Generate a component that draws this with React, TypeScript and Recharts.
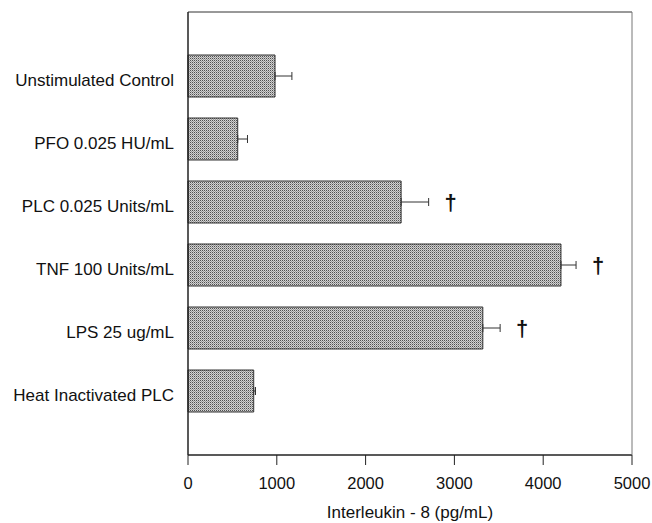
import { Bar, BarChart, ErrorBar, LabelList, XAxis, YAxis } from "recharts";

const categories = [
  "Unstimulated Control",
  "PFO 0.025 HU/mL",
  "PLC 0.025 Units/mL",
  "TNF 100 Units/mL",
  "LPS 25 ug/mL",
  "Heat Inactivated PLC",
];
const il8Values = [980, 560, 2400, 4200, 3320, 740];
const il8Errors = [190, 110, 310, 170, 195, 20];
const significant = [false, false, true, true, true, false];
const xTicks = [0, 1000, 2000, 3000, 4000, 5000];

const data = categories.map((name, i) => ({
  name,
  value: il8Values[i],
  err: [0, il8Errors[i]],
  sig: significant[i] ? "\u2020" : "",
}));

const font = "Liberation Sans, Arial, sans-serif";

// dagger sits a bit right of the error bar end
const renderDagger = (props: any) => {
  const { x = 0, y = 0, width = 0, height = 0, value, index = 0 } = props;
  if (!value) return null;
  const errPx = (il8Errors[index] * Number(width)) / il8Values[index];
  const dx = Number(x) + Number(width) + errPx + 22;
  const dy = Number(y) + Number(height) / 2;
  return (
    <text
      x={dx}
      y={dy}
      textAnchor="middle"
      dominantBaseline="central"
      fontSize={22}
      fontWeight="bold"
      fontFamily={font}
      fill="#111"
    >
      {value}
    </text>
  );
};

export default function App() {
  return (
    <div style={{ position: "absolute", left: 0, top: 0 }}>
      <BarChart
        width={652}
        height={523}
        data={data}
        layout="vertical"
        margin={{ top: 11, right: 19, bottom: 0, left: 0 }}
        barSize={42}
        style={{ fontFamily: font }}
      >
        <defs>
          <pattern id="dots" width="2" height="2" patternUnits="userSpaceOnUse">
            <rect width="2" height="2" fill="#d2d2d2" />
            <rect x="0" y="0" width="1" height="1" fill="#505050" />
            <rect x="1" y="1" width="1" height="1" fill="#999" />
          </pattern>
        </defs>
        <XAxis
          type="number"
          domain={[0, 5000]}
          ticks={xTicks}
          height={68}
          tickSize={10}
          tickMargin={12}
          axisLine={{ stroke: "#222", strokeWidth: 1.5 }}
          tickLine={{ stroke: "#222" }}
          tick={{ fill: "#111", fontSize: 16.5 }}
          label={{
            value: "Interleukin - 8 (pg/mL)",
            position: "insideBottom",
            offset: 5,
            fill: "#111",
            fontSize: 17,
          }}
        />
        <XAxis
          xAxisId="top"
          orientation="top"
          type="number"
          domain={[0, 5000]}
          height={1}
          tick={false}
          tickLine={false}
          axisLine={{ stroke: "#333" }}
        />
        <YAxis
          type="category"
          dataKey="name"
          width={188}
          padding={{ top: 32, bottom: 33 }}
          tickLine={false}
          tickSize={0}
          tickMargin={14}
          axisLine={{ stroke: "#222", strokeWidth: 1.5 }}
          tick={{ fill: "#111", fontSize: 17, dy: 4 }}
          interval={0}
        />
        <YAxis
          yAxisId="right"
          orientation="right"
          type="category"
          dataKey="name"
          width={1}
          tick={false}
          tickLine={false}
          axisLine={{ stroke: "#777" }}
        />
        <Bar
          dataKey="value"
          fill="url(#dots)"
          stroke="#333"
          strokeWidth={1}
          isAnimationActive={false}
        >
          <ErrorBar
            dataKey="err"
            direction="x"
            width={4}
            stroke="#333"
            strokeWidth={1}
          />
          <LabelList dataKey="sig" content={renderDagger} />
        </Bar>
      </BarChart>
    </div>
  );
}
